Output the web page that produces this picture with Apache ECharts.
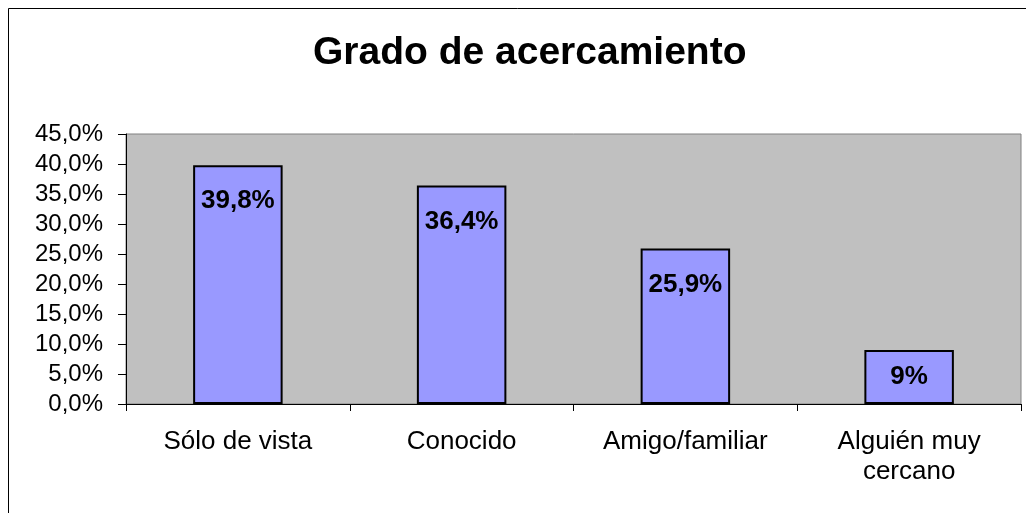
<!DOCTYPE html>
<html>
<head>
<meta charset="utf-8">
<script src="https://cdn.jsdelivr.net/npm/echarts@6/dist/echarts.min.js"></script>
<style>
html,body{margin:0;padding:0;background:#fff;}
#c{width:1026px;height:513px;}
</style>
</head>
<body>
<div id="c"></div>
<script>
const titleText = 'Grado de acercamiento';
const categories = ['Sólo de vista', 'Conocido', 'Amigo/familiar', 'Alguién muy\ncercano'];
const values = [39.8, 36.4, 25.9, 9];
const yTicks = [0, 5, 10, 15, 20, 25, 30, 35, 40, 45];

const FONT = "'Liberation Sans', Arial, sans-serif";
const chart = echarts.init(document.getElementById('c'), null, {renderer: 'canvas'});

function fmtPct(v, forceDecimal) {
  if (!forceDecimal && Number.isInteger(v)) return v + '%';
  return v.toFixed(1).replace('.', ',') + '%';
}

chart.setOption({
  animation: false,
  backgroundColor: '#ffffff',
  title: {
    text: titleText,
    left: 308,
    top: 29,
    textStyle: {fontFamily: FONT, fontSize: 39, fontWeight: 'bold', color: '#000'}
  },
  graphic: [{
    type: 'rect',
    shape: {x: 8.5, y: 8.5, width: 1040, height: 540},
    style: {fill: 'none', stroke: '#000', lineWidth: 1},
    silent: true,
    z: -1
  }],
  grid: {
    left: 126, right: 5, top: 134, bottom: 109,
    show: true,
    backgroundColor: '#C0C0C0',
    borderColor: '#808080',
    borderWidth: 1
  },
  xAxis: {
    type: 'category',
    data: categories,
    axisLine: {show: true, lineStyle: {color: '#000', width: 1}},
    axisTick: {show: true, alignWithLabel: false, length: 7, lineStyle: {color: '#000'}},
    axisLabel: {
      fontFamily: FONT, fontSize: 26, color: '#000', margin: 23,
      lineHeight: 30, interval: 0
    },
    splitLine: {show: false}
  },
  yAxis: {
    type: 'value',
    min: yTicks[0],
    max: yTicks[yTicks.length - 1],
    interval: yTicks[1] - yTicks[0],
    axisLine: {show: true, lineStyle: {color: '#000', width: 1}},
    axisTick: {show: true, length: 8, lineStyle: {color: '#000'}},
    axisLabel: {
      fontFamily: FONT, fontSize: 24, color: '#000', margin: 23,
      formatter: v => fmtPct(v, true)
    },
    splitLine: {show: false}
  },
  series: [{
    type: 'bar',
    data: values.map((v, i) => ({
      value: v,
      label: i === values.length - 1 ? {position: 'inside'} : {}
    })),
    barWidth: '40%',
    itemStyle: {color: '#9999FF', borderColor: '#000', borderWidth: 2},
    label: {
      show: true,
      position: 'insideTop',
      distance: 23,
      fontFamily: FONT, fontSize: 26, fontWeight: 'bold', color: '#000',
      formatter: p => fmtPct(p.value, false)
    }
  }]
});
</script>
</body>
</html>
